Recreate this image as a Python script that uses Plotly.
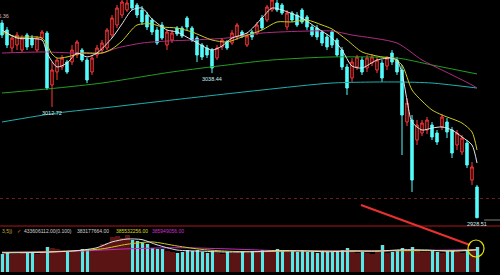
import plotly.graph_objects as go

# ---------------- data ----------------
days = list(range(96))
opens = [3076.5,3071.2,3057.5,3059.8,3056.0,3067.4,3065.1,3056.0,3065.1,3068.9,
         3029.4,3039.3,3043.1,3046.9,3046.9,3052.2,3056.0,3048.4,3039.3,3052.2,
         3056.0,3057.5,3067.4,3075.0,3082.6,3086.4,3094.0,3090.2,3086.4,3082.6,
         3078.8,3071.2,3075.0,3059.8,3063.6,3072.7,3072.7,3080.3,3072.7,3065.1,
         3059.8,3057.5,3056.0,3049.9,3058.3,3062.1,3061.3,3065.9,3069.7,3059.8,
         3069.7,3068.9,3080.3,3078.8,3086.4,3091.7,3090.2,3073.5,3084.1,3082.6,
         3086.4,3081.1,3073.5,3072.7,3069.7,3065.9,3069.7,3063.6,3056.0,3043.1,
         3034.7,3043.1,3048.4,3042.3,3046.1,3040.8,3046.1,3043.8,3053.7,3048.4,
         3040.8,3001.3,3002.8,2987.6,2992.9,2995.2,2999.0,2992.9,2997.5,3001.3,
         2995.2,2983.8,2978.5,2985.3,2957.2,2951.9]
highs = [3078.8,3073.5,3067.4,3069.7,3067.4,3068.9,3067.4,3066.6,3071.2,3070.4,
         3046.9,3049.9,3052.2,3048.4,3059.8,3063.6,3057.5,3049.9,3052.2,3059.8,
         3063.6,3072.7,3082.6,3090.2,3095.5,3095.0,3095.5,3091.7,3089.4,3084.9,
         3080.3,3073.5,3077.3,3071.2,3071.2,3074.2,3074.2,3081.8,3074.2,3066.6,
         3061.3,3059.8,3057.5,3059.8,3065.1,3063.6,3071.2,3076.5,3071.2,3068.9,
         3071.2,3077.3,3082.6,3090.2,3095.5,3094.0,3091.7,3086.4,3085.6,3084.9,
         3087.9,3082.6,3075.0,3075.0,3071.2,3068.2,3071.2,3065.1,3058.3,3045.4,
         3049.9,3052.2,3050.7,3052.2,3053.0,3050.7,3048.4,3051.4,3056.0,3050.7,
         3044.6,3019.5,3006.6,3002.8,3002.8,3005.1,3001.3,2995.2,3007.4,3004.3,
         2997.5,2995.2,2991.4,2987.6,2970.9,2953.4]
lows = [3065.1,3057.5,3054.5,3056.0,3054.5,3056.0,3057.5,3054.5,3063.6,3025.6,
        3012.72,3033.2,3040.8,3037.8,3044.6,3049.9,3046.9,3030.9,3037.0,3049.9,
        3053.7,3056.0,3065.1,3072.7,3080.3,3084.9,3086.4,3080.3,3075.0,3071.2,
        3067.4,3059.8,3063.6,3056.0,3061.3,3066.6,3065.1,3071.2,3062.1,3046.9,
        3048.4,3049.9,3038.44,3048.4,3056.0,3056.0,3059.8,3063.6,3065.1,3058.3,
        3063.6,3067.4,3071.2,3077.3,3084.9,3084.9,3082.6,3071.2,3077.3,3073.5,
        3075.8,3071.2,3065.9,3063.6,3059.0,3056.0,3057.5,3050.7,3040.8,3021.8,
        3031.7,3040.8,3037.0,3039.3,3043.8,3038.5,3031.7,3040.8,3044.6,3037.0,
        2976.2,2998.2,2948.1,2983.8,2990.6,2992.2,2987.6,2983.8,2995.2,2989.1,
        2973.9,2980.0,2976.2,2966.3,2953.4,2928.51]
closes = [3067.4,3059.8,3065.1,3067.4,3065.1,3058.3,3059.8,3065.1,3069.7,3027.1,
          3040.8,3048.4,3049.9,3039.3,3056.0,3062.1,3048.4,3033.2,3049.9,3057.5,
          3061.3,3071.2,3080.3,3087.9,3092.5,3091.7,3087.9,3082.6,3077.3,3073.5,
          3069.7,3061.3,3065.1,3069.7,3068.9,3068.2,3066.6,3073.5,3063.6,3052.2,
          3050.7,3052.2,3042.3,3057.5,3063.6,3057.5,3068.9,3075.0,3066.6,3066.6,
          3065.9,3075.0,3072.7,3088.7,3094.0,3086.4,3084.1,3084.1,3078.8,3075.0,
          3077.3,3073.5,3067.4,3065.9,3061.3,3058.3,3059.8,3052.2,3043.1,3027.1,
          3046.9,3050.7,3039.3,3049.9,3050.7,3048.4,3034.7,3049.9,3046.9,3039.3,
          3006.6,3015.7,2957.2,2999.0,3000.5,3002.8,2989.9,2986.1,3005.1,2993.7,
          2977.7,2992.9,2989.1,2968.6,2967.1,2928.51]
volumes = [320e6,330e6,310e6,320e6,330e6,350e6,340e6,320e6,350e6,440e6,
           420e6,390e6,380e6,350e6,360e6,350e6,400e6,390e6,380e6,420e6,
           480e6,500e6,600e6,620e6,580e6,640e6,560e6,540e6,500e6,480e6,
           420e6,400e6,390e6,360e6,340e6,330e6,350e6,380e6,370e6,380e6,
           340e6,330e6,360e6,330e6,320e6,350e6,330e6,340e6,360e6,330e6,
           370e6,340e6,380e6,360e6,380e6,390e6,370e6,350e6,360e6,350e6,
           380e6,340e6,350e6,330e6,360e6,340e6,350e6,360e6,380e6,420e6,
           360e6,330e6,340e6,330e6,320e6,340e6,460e6,330e6,350e6,360e6,
           420e6,380e6,440e6,360e6,350e6,340e6,360e6,340e6,330e6,370e6,
           380e6,340e6,330e6,380e6,360e6,433606112]

# moving averages (day index, value)
ma5_days = [0,3,8,9,11,13,15,17,19,22,24,26,28,30,33,35,38,42,44,46,49,52,54,56,60,63,66,68,70,72,75,78,79,80,81,82,84,86,88,90,92,94,95]
ma5_vals = [3071.2,3065.1,3063.6,3053.7,3043.1,3046.1,3053.7,3050.7,3053.7,3065.1,3075.8,3086.4,3087.9,3079.6,3071.2,3069.7,3063.6,3056.0,3059.0,3065.1,3068.9,3080.3,3087.9,3086.4,3080.3,3072.7,3065.1,3056.0,3043.8,3042.3,3048.4,3049.9,3048.4,3038.5,3018.0,3001.3,2995.2,2996.7,2997.5,2995.2,2989.9,2983.8,2970.1]
ma10_days = [0,3,8,10,11,13,16,20,22,24,27,30,32,35,38,42,45,48,52,55,58,61,64,66,69,72,76,78,80,82,84,86,88,92,94,95]
ma10_vals = [3069.7,3065.9,3065.1,3053.0,3049.9,3050.7,3053.7,3053.7,3056.8,3062.8,3075.0,3075.8,3073.5,3072.7,3069.7,3063.6,3062.1,3065.9,3071.2,3077.3,3077.3,3078.8,3075.0,3072.0,3063.6,3054.5,3050.7,3049.9,3044.6,3025.6,3017.2,3010.4,3006.6,3000.5,2993.7,2980.0]
ma30_days = [0,8,20,23,28,33,38,45,52,61,66,70,79,84,88,94,95]
ma30_vals = [3053.7,3054.5,3053.7,3057.5,3061.3,3062.8,3063.6,3065.1,3068.9,3070.4,3070.4,3067.4,3061.3,3048.4,3040.8,3029.4,3027.1]
ma60_days = [0,11,20,34,45,54,66,79,86,95]
ma60_vals = [3023.3,3027.1,3030.9,3039.3,3044.6,3048.4,3050.7,3049.9,3044.6,3037.8]
ma120_days = [0,11,22,34,52,66,79,86,95]
ma120_vals = [3001.3,3008.1,3012.7,3018.0,3025.6,3030.9,3031.7,3030.9,3027.1]

vma5_days = [0,8,15,19,22,25,28,31,35,40,45,50,55,60,65,70,75,80,85,90,95]
vma5_vals = [330e6,340e6,370e6,420e6,520e6,570e6,560e6,470e6,380e6,360e6,345e6,350e6,370e6,365e6,350e6,365e6,360e6,385e6,380e6,360e6,383177664]
vma10_days = [0,10,20,25,30,35,40,45,50,60,70,80,90,95]
vma10_vals = [340e6,350e6,400e6,480e6,520e6,450e6,390e6,360e6,350e6,365e6,360e6,370e6,370e6,385532256]
vma20_days = [0,15,25,35,45,55,65,75,85,95]
vma20_vals = [340e6,360e6,400e6,420e6,400e6,370e6,365e6,365e6,375e6,385949056]

header_texts = ["3,5))", "\u2713", "433606112.00(0.100)", "383177664.00", "385532256.00", "385949056.00"]
header_colors = ["#c8b040", "#e08020", "#d0d0d0", "#d0d0d0", "#d8d820", "#d030d0"]
header_px = [0, 15, 22, 75, 114, 150]

low_labels = [(10, "3012.72"), (42, "3038.44"), (95, "2928.51")]

W, H = 500, 275
main_bottom_px = 226
vol_top_px, vol_bottom_px = 228, 272

fig = go.Figure()

fig.add_trace(go.Candlestick(
    x=days, open=opens, high=highs, low=lows, close=closes,
    increasing=dict(line=dict(color="#ff3a3a", width=1), fillcolor="#1a0000"),
    decreasing=dict(line=dict(color="#54fcfc", width=1), fillcolor="#54fcfc"),
    whiskerwidth=0, xaxis="x", yaxis="y", hoverinfo="skip"))

def ma(xs, ys, color, ax="x", ay="y", w=1):
    fig.add_trace(go.Scatter(x=xs, y=ys, mode="lines",
                             line=dict(color=color, width=w, shape="spline", smoothing=0.7),
                             xaxis=ax, yaxis=ay, hoverinfo="skip"))

ma(ma120_days, ma120_vals, "#1fb0b0")
ma(ma60_days, ma60_vals, "#22a022")
ma(ma30_days, ma30_vals, "#b02c82")
ma(ma10_days, ma10_vals, "#cccc22")
ma(ma5_days, ma5_vals, "#e6e6e6")

# volume
down = [i for i in days if closes[i] < opens[i]]
fig.add_trace(go.Bar(x=days, y=volumes, width=1.0,
                     marker=dict(color="#5a1414", line=dict(width=0)),
                     xaxis="x2", yaxis="y2", hoverinfo="skip"))
fig.add_trace(go.Bar(x=down, y=[volumes[i] for i in down], width=0.6,
                     marker=dict(color="#50eaea", line=dict(width=0)),
                     xaxis="x2", yaxis="y2", hoverinfo="skip"))
ma(vma20_days, vma20_vals, "#c828c8", "x2", "y2")
ma(vma10_days, vma10_vals, "#cccc22", "x2", "y2")
ma(vma5_days, vma5_vals, "#e0e0e0", "x2", "y2")

def py(px):
    return 1 - px / H

annots = []
for i, t in low_labels:
    annots.append(dict(x=i, y=lows[i], xref="x", yref="y", text=t, showarrow=False,
                       yanchor="top", xanchor="center", yshift=-1,
                       font=dict(family="Liberation Sans", size=5.5, color="#c8f0f0")))
annots.append(dict(x=11 / W, y=py(16), xref="paper", yref="paper", text="3085.36",
                   showarrow=False, xanchor="right", yanchor="middle",
                   font=dict(family="Liberation Sans", size=5.5, color="#d0b0b0")))
for t, c, px in zip(header_texts, header_colors, header_px):
    annots.append(dict(x=px / W, y=py(230.5), xref="paper", yref="paper", text=t,
                       showarrow=False, xanchor="left", yanchor="middle",
                       font=dict(family="Liberation Sans", size=5, color=c)))

shapes = [
    dict(type="line", xref="paper", yref="paper", x0=0, x1=1,
         y0=py(main_bottom_px), y1=py(main_bottom_px), line=dict(color="#a81818", width=1)),
    dict(type="line", xref="paper", yref="paper", x0=484 / W, x1=1,
         y0=py(220), y1=py(220), line=dict(color="#808080", width=1)),
    dict(type="line", xref="paper", yref="paper", x0=361 / W, y0=py(205),
         x1=470 / W, y1=py(245), line=dict(color="#e83030", width=2)),
    dict(type="circle", xref="paper", yref="paper", x0=468 / W, x1=484 / W,
         y0=py(257), y1=py(240), line=dict(color="#e6e600", width=1.2)),
]

hidden = dict(showticklabels=False, showgrid=False, zeroline=False, showline=False, ticks="")
fig.update_layout(
    width=W, height=H, margin=dict(l=0, r=0, t=0, b=0),
    paper_bgcolor="#000000", plot_bgcolor="#000000",
    showlegend=False, barmode="overlay", bargap=0,
    xaxis=dict(hidden, range=[-0.4, 99.6], domain=[0, 1], anchor="y",
               rangeslider=dict(visible=False)),
    yaxis=dict(hidden, range=[3094 - 0.76 * main_bottom_px, 3094],
               domain=[py(main_bottom_px), 1], anchor="x",
               tickvals=[2943.5], showgrid=True, gridcolor="#6a2018", griddash="dot", gridwidth=1),
    xaxis2=dict(hidden, range=[-0.4, 99.6], domain=[0, 1], anchor="y2", matches="x"),
    yaxis2=dict(hidden, range=[0, 761e6], domain=[py(vol_bottom_px), py(vol_top_px)], anchor="x2"),
    annotations=annots, shapes=shapes,
)

fig.write_html("out.html")
